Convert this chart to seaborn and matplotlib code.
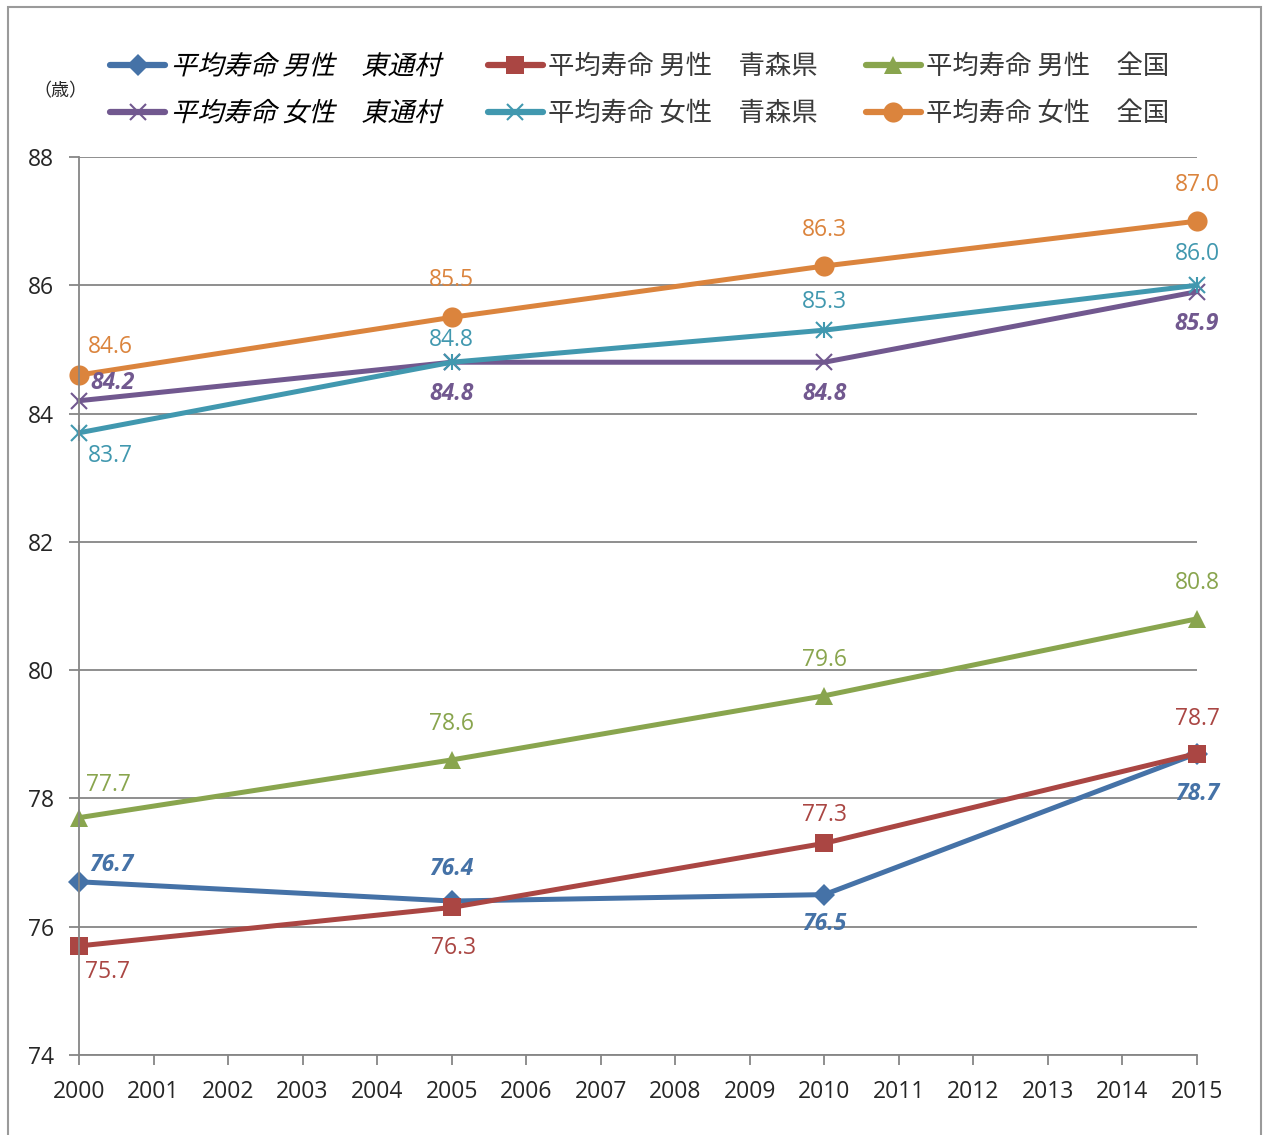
import matplotlib
matplotlib.use("Agg")
import matplotlib.pyplot as plt
import matplotlib.patheffects as pe
from matplotlib.transforms import Affine2D
from matplotlib.patches import Rectangle
import seaborn as sns
import pandas as pd

# data
years = [2000, 2005, 2010, 2015]
male_higashidori = [76.7, 76.4, 76.5, 78.7]
male_aomori = [75.7, 76.3, 77.3, 78.7]
male_japan = [77.7, 78.6, 79.6, 80.8]
female_higashidori = [84.2, 84.8, 84.8, 85.9]
female_aomori = [83.7, 84.8, 85.3, 86.0]
female_japan = [84.6, 85.5, 86.3, 87.0]

labels = ["平均寿命 男性　東通村", "平均寿命 女性　東通村",
          "平均寿命 男性　青森県", "平均寿命 女性　青森県",
          "平均寿命 男性　全国", "平均寿命 女性　全国"]
series = [male_higashidori, female_higashidori, male_aomori,
          female_aomori, male_japan, female_japan]

colors = ["#4572A7", "#71588F", "#AA4643", "#4198AF", "#89A54E", "#DB843D"]
markers = ["D", "x", "s", "x", "^", "o"]
msizes = [11, 11.5, 13, 11.5, 13, 14.5]
italic = [True, True, False, False, False, False]
# label offsets in pixels (dx, dy up)
offsets = [
    [(32, 17), (0, 32), (0, -29), (0, -40)],
    [(34, 18), (0, -32), (0, -32), (0, -32)],
    [(29, -26), (2, -41), (0, 28), (0, 35)],
    [(31, -23), (0, 22), (0, 28), (0, 31)],
    [(29, 33), (0, 36), (0, 36), (0, 36)],
    [(31, 28), (0, 37), (0, 36), (0, 36)],
]


class Slant(pe.AbstractPathEffect):
    # fake oblique for CJK fonts without an italic face
    def draw_path(self, renderer, gc, tpath, affine, rgbFace=None):
        m = affine.get_matrix()
        x0, y0 = m[0, 2], m[1, 2]
        skew = Affine2D().translate(-x0, -y0).skew_deg(14, 0).translate(x0, y0)
        renderer.draw_path(gc, tpath, affine + skew, rgbFace)


sns.set_style("white")
plt.rcParams["font.family"] = ["Noto Sans CJK JP", "DejaVu Sans"]

fig = plt.figure(figsize=(12.64, 11.35), dpi=100)
ax = fig.add_axes([0.0625, 0.0705, 0.8845, 0.7912])

for i, vals in enumerate(series):
    df = pd.DataFrame({"year": years, "value": vals})
    mk = markers[i]
    sns.lineplot(data=df, x="year", y="value", ax=ax, color=colors[i],
                 linewidth=3.6, marker=mk, markersize=msizes[i],
                 markeredgewidth=1.5 if mk == "x" else 0,
                 markeredgecolor=colors[i], label=labels[i], clip_on=False)
    if i == 3:
        ax.plot(years, vals, linestyle="none", marker="|", markersize=12,
                markeredgewidth=1.5, color=colors[i], clip_on=False)
    for j, v in enumerate(vals):
        dx, dy = offsets[i][j]
        ax.annotate(f"{v:.1f}", (years[j], v), xytext=(dx * 0.72, dy * 0.72),
                    textcoords="offset points", ha="center", va="center",
                    color=colors[i], fontsize=16.5,
                    fontweight="bold" if italic[i] else "normal",
                    fontstyle="italic" if italic[i] else "normal",
                    family=["Open Sans", "DejaVu Sans"])

ax.set_xlim(2000, 2015)
ax.set_ylim(74, 88)
ax.set_xticks(range(2000, 2016))
ax.set_yticks(range(74, 89, 2))
ax.set_xlabel("")
ax.set_ylabel("")
ax.grid(axis="y", color="#868686", linewidth=1.3)
ax.set_axisbelow(True)
for s in ["top", "right"]:
    ax.spines[s].set_visible(False)
for s in ["left", "bottom"]:
    ax.spines[s].set_color("#868686")
    ax.spines[s].set_linewidth(1.3)
ax.tick_params(axis="both", length=7, width=1.3, color="#868686",
               labelsize=16.5, direction="out")
ax.tick_params(axis="x", bottom=True, pad=11)
ax.tick_params(axis="y", left=True, pad=11)
for t in ax.get_xticklabels() + ax.get_yticklabels():
    t.set_family(["Open Sans", "DejaVu Sans"])

h, l = ax.get_legend_handles_labels()
ax.get_legend().remove()
leg = fig.legend(h[:6], l[:6], ncol=3, loc="upper left",
                 bbox_to_anchor=(0.087, 0.953), frameon=False, fontsize=19,
                 handlelength=2.1, columnspacing=1.8, labelspacing=0.75,
                 handletextpad=0.2, borderpad=0, borderaxespad=0)
for k, t in enumerate(leg.get_texts()):
    if k < 2:
        t.set_path_effects([Slant()])
        t.set_color("black")
    else:
        t.set_color("#3a3a3a")
for lh in leg.get_lines():
    lh.set_linewidth(4.5)

fig.text(0.048, 0.92, "（歳）", fontsize=13, ha="center", va="center")

fig.patches.append(Rectangle((0.006, -0.01), 0.992, 1.004, transform=fig.transFigure,
                             fill=False, edgecolor="#9a9a9a", linewidth=1.5))

fig.savefig("out.png", dpi=100)
